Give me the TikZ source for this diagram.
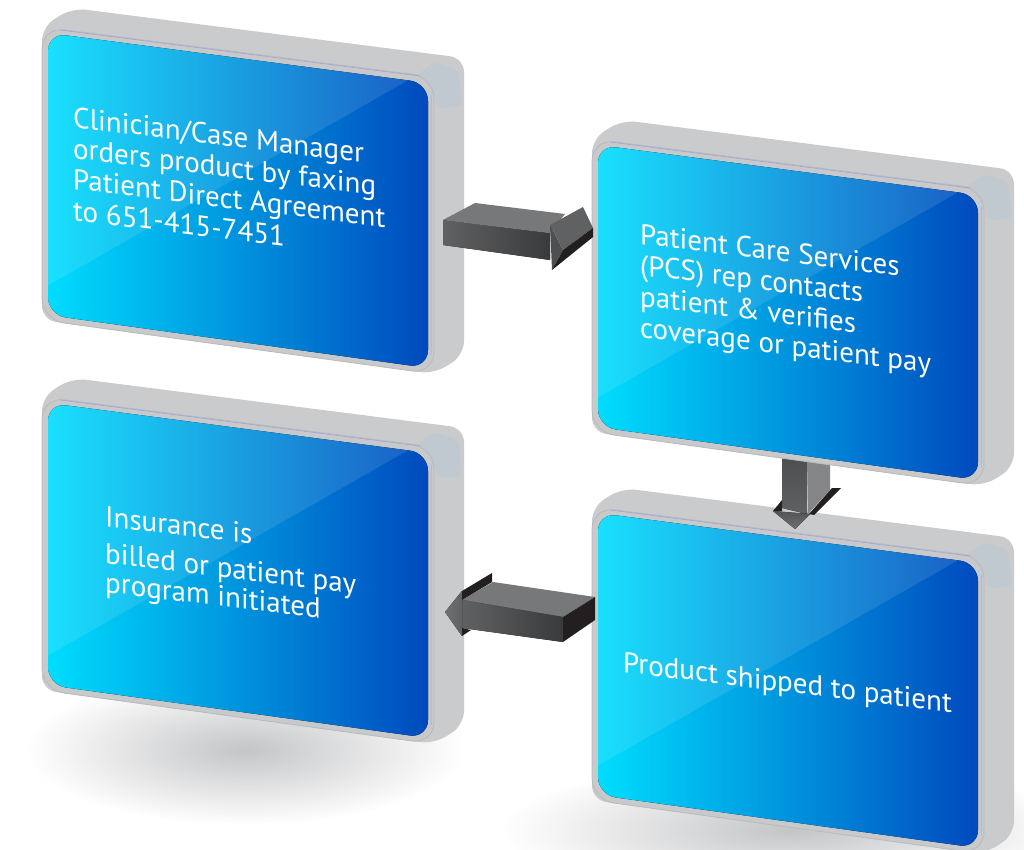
\documentclass[tikz,border=0pt]{standalone}
\usepackage{fontspec}
\setmainfont{PT Sans}
\definecolor{sidegrey}{HTML}{CACBCD}
\definecolor{framegrey}{HTML}{C8C9CB}
\definecolor{edgegrey}{HTML}{B9BABC}
\definecolor{hatchgrey}{HTML}{C0C8D0}
\definecolor{cyanend}{HTML}{00E0FF}
\definecolor{blueend}{HTML}{0045BB}
\definecolor{shadowgrey}{HTML}{C4C5C7}
\definecolor{topgrey}{HTML}{77787A}
\definecolor{headgrey}{HTML}{606163}
\definecolor{lightgrey}{HTML}{858688}
\definecolor{darkface}{HTML}{231F20}
\tikzset{
  frame/.style={fill=framegrey, draw=edgegrey, line width=0.8pt, rounded corners=22pt},
  label/.style={anchor=base west, yslant=-0.123, align=left, inner sep=0pt, text=white,
    font=\fontsize{29}{31}\selectfont},
}
% one 3D panel, shifted by (#1,#2)
\newcommand{\panel}[2]{%
\begin{scope}[shift={(#1,#2)}]
  \fill[sidegrey, rounded corners=14pt] (42,320) -- (42,27) -- (72,8) -- (464,58) -- (464,355) -- (434,374) -- cycle;
  \fill[hatchgrey, rounded corners=5pt] (414,78) -- (434,62) -- (458,70) -- (462,106) -- (438,108) -- (432,88) -- cycle;
  \path[frame] (42,27) -- (434,77) -- (434,374) -- (42,320) -- cycle;
  \draw[hatchgrey!80!blue, line width=0.5pt] (60,30) -- (420,76) (431,95) -- (431,355);
  \begin{scope}
    \clip[rounded corners=18pt] (48,33) -- (428,83) -- (428,368) -- (48,315) -- cycle;
    \fill[left color=cyanend, right color=blueend] (40,20) rectangle (440,380);
    \fill[white, opacity=0.1] (40,290) -- (412,78) -- (40,20) -- cycle;
  \end{scope}
\end{scope}}
\begin{document}
\begin{tikzpicture}[x=1pt, y=-1pt]
\useasboundingbox (0,0) rectangle (1024,850);
\shade[inner color=shadowgrey, outer color=white] (245,750) ellipse (220 and 75);
\shade[inner color=shadowgrey, outer color=white] (790,830) ellipse (290 and 70);
%
\coordinate (r1) at (443,220);
\coordinate (d1) at (795,529);
\coordinate (l1) at (445,612);
%
\panel{550}{480}
\begin{scope}[shift={(d1)}]
  \fill[top color=headgrey!80!black, bottom color=headgrey] (-13,-74) -- (12,-70) -- (12,-15) -- (-13,-21) -- cycle;
  \fill[lightgrey] (12,-70) -- (35,-66) -- (35,-39) -- (13,-15) -- cycle;
  \fill[darkface] (-22,-18) -- (-13,-29) -- (-13,-18) -- cycle;
  \fill[darkface] (14,-15) -- (37,-41) -- (46,-41) -- (19,-14) -- cycle;
  \fill[top color=headgrey!85!black, bottom color=headgrey!90!white] (-22,-18) -- (0,0) -- (15,-15) -- cycle;
\end{scope}
\panel{0}{0}
\panel{550}{112}
\panel{0}{370}
%
\begin{scope}[shift={(r1)}]
  \fill[left color=headgrey, right color=headgrey!60!black] (0,0) -- (107,13) -- (107,40) -- (0,25) -- cycle;
  \fill[topgrey] (0,0) -- (32,-17) -- (122,-6) -- (107,13) -- cycle;
  \fill[headgrey!80!black] (107,5) -- (120,30) -- (109,50) -- cycle;
  \fill[headgrey] (107,5) -- (140,-13) -- (150,8) -- (120,30) -- cycle;
  \fill[darkface] (120,30) -- (150,8) -- (150,17) -- (109,50) -- cycle;
\end{scope}
\begin{scope}[shift={(l1)}]
  \fill[topgrey] (17,-12) -- (48,-30) -- (150,-15) -- (118,5) -- cycle;
  \fill[left color=headgrey, right color=headgrey!60!black] (17,-12) -- (118,5) -- (118,30) -- (17,16) -- cycle;
  \fill[darkface] (118,5) -- (150,-15) -- (150,8) -- (118,30) -- cycle;
  \fill[darkface] (17,-21) -- (47,-39) -- (47,-30) -- (17,-12) -- cycle;
  \fill[darkface] (17,16) -- (26,18) -- (17,24) -- cycle;
  \fill[left color=headgrey!90!white, right color=headgrey] (17,-21) -- (0,0) -- (17,24) -- cycle;
\end{scope}
%
\node[label] (order) at (73,220) {Clinician/Case Manager\\orders product by faxing\\Patient Direct Agreement\\to 651-415-7451};
\node[label] (verify) at (640,337) {Patient Care Services\\(PCS) rep contacts\\patient \& verifies\\coverage or patient pay};
\node[label] (bill) at (105,592) {Insurance is\\[6pt]billed or patient pay\\[-2pt]program initiated};
\node[label] (ship) at (623,672) {Product shipped to patient};
\end{tikzpicture}
\end{document}
